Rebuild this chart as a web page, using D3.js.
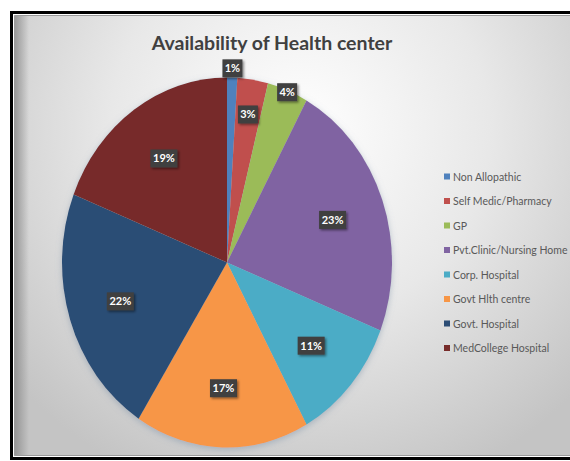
<!DOCTYPE html>
<html>
<head>
<meta charset="utf-8">
<script src="https://cdn.jsdelivr.net/npm/d3@7"></script>
<style>
html, body { margin: 0; background: #fff; overflow: hidden; }
svg { display: block; }
</style>
</head>
<body>
<div id="chart"></div>
<script>
var title = "Availability of Health center";
var categories = ["Non Allopathic", "Self Medic/Pharmacy", "GP", "Pvt.Clinic/Nursing Home",
    "Corp. Hospital", "Govt Hlth centre", "Govt. Hospital", "MedCollege Hospital"];
var shares = [1, 3, 4, 23, 11, 17, 22, 19];
var colors = ["#4f81bd", "#c0504d", "#9bbb59", "#8064a2", "#4bacc6", "#f79646", "#2c4d75", "#772c2a"];

var width = 570, height = 461;
var cx = 227, cy = 262.5, rx = 165, ry = 185;

var svg = d3.select("#chart").append("svg")
    .attr("width", width)
    .attr("height", height);

var defs = svg.append("defs");
var bg = defs.append("radialGradient")
    .attr("id", "bg")
    .attr("gradientUnits", "userSpaceOnUse")
    .attr("cx", 300).attr("cy", 130).attr("r", 380);
bg.append("stop").attr("offset", "0%").attr("stop-color", "#ffffff");
bg.append("stop").attr("offset", "50%").attr("stop-color", "#e8e8e8");
bg.append("stop").attr("offset", "100%").attr("stop-color", "#c4c4c4");

var edge = defs.append("linearGradient").attr("id", "edge");
edge.append("stop").attr("offset", "0%").attr("stop-color", "#8a8a8a").attr("stop-opacity", 0.8);
edge.append("stop").attr("offset", "100%").attr("stop-color", "#8a8a8a").attr("stop-opacity", 0);

var shadow = defs.append("filter").attr("id", "shadow")
    .attr("x", "-30%").attr("y", "-30%").attr("width", "160%").attr("height", "160%");
shadow.append("feDropShadow")
    .attr("dx", 1.5).attr("dy", 1.5).attr("stdDeviation", 1)
    .attr("flood-color", "#000").attr("flood-opacity", 0.45);

var glow = defs.append("filter").attr("id", "glow")
    .attr("x", "-10%").attr("y", "-10%").attr("width", "120%").attr("height", "120%");
glow.append("feDropShadow")
    .attr("dx", 0).attr("dy", 2).attr("stdDeviation", 3)
    .attr("flood-color", "#7f93a8").attr("flood-opacity", 0.5);

// frame: chart area runs past the right edge of the picture
svg.append("rect")
    .attr("x", 14).attr("y", 15)
    .attr("width", width - 14).attr("height", 441)
    .attr("fill", "url(#bg)");
svg.append("path")
    .attr("d", "M" + width + ",15.5H14.5V455.5H" + width)
    .attr("fill", "none")
    .attr("stroke", "#9a9a9a")
    .attr("stroke-width", 1);
svg.append("path")
    .attr("d", "M" + width + ",12.5H11.5V458.5H" + width)
    .attr("fill", "none")
    .attr("stroke", "#000")
    .attr("stroke-width", 3);
svg.append("rect")
    .attr("x", 15).attr("y", 16)
    .attr("width", 14).attr("height", 439)
    .attr("fill", "url(#edge)");

// title
svg.append("text")
    .attr("x", 272).attr("y", 50)
    .attr("text-anchor", "middle")
    .attr("font-family", "Lato, 'Open Sans', sans-serif")
    .attr("font-weight", "bold")
    .attr("font-size", 19.5)
    .attr("fill", "#404040")
    .text(title);

// pie
var pie = d3.pie().sort(null).value(function(d) { return d; });
var arcs = pie(shares);
var arc = d3.arc().innerRadius(0).outerRadius(rx);

var pieG = svg.append("g")
    .attr("transform", "translate(" + cx + "," + cy + ") scale(1," + (ry / rx) + ")")
    .attr("filter", "url(#glow)");
pieG.selectAll("path")
    .data(arcs)
    .enter().append("path")
    .attr("d", arc)
    .attr("fill", function(d, i) { return colors[i]; });

// labels (best fit: small slices pushed outward)
var labelFactor = function(i) {
    if (i === 0) return 1.05;
    if (i === 1) return 0.81;
    if (i === 2) return 0.99;
    return 0.68;
};
var labelG = svg.append("g").attr("transform", "translate(" + cx + "," + cy + ")");
var labels = labelG.selectAll(".lbl")
    .data(arcs)
    .enter().append("g")
    .attr("class", "lbl")
    .attr("transform", function(d, i) {
        var r = rx * labelFactor(i);
        var c = d3.arc().innerRadius(r).outerRadius(r).centroid(d);
        return "translate(" + c[0] + "," + (c[1] * ry / rx) + ")";
    });
labels.append("rect")
    .attr("x", function(d) { return d.data >= 10 ? -13.5 : -10; })
    .attr("y", -9)
    .attr("width", function(d) { return d.data >= 10 ? 27 : 20; })
    .attr("height", 18)
    .attr("fill", "#3f3f3f")
    .attr("filter", "url(#shadow)");
labels.append("text")
    .attr("text-anchor", "middle")
    .attr("dy", "0.36em")
    .attr("font-family", "Lato, 'Open Sans', sans-serif")
    .attr("font-weight", "bold")
    .attr("font-size", 11)
    .attr("fill", "#fff")
    .text(function(d) { return d.data + "%"; });

// legend
var legend = svg.append("g").attr("transform", "translate(444,177)");
var item = legend.selectAll(".item")
    .data(categories)
    .enter().append("g")
    .attr("class", "item")
    .attr("transform", function(d, i) { return "translate(0," + (i * 24.5) + ")"; });
item.append("rect")
    .attr("x", 0).attr("y", -3.5)
    .attr("width", 6).attr("height", 6)
    .attr("fill", function(d, i) { return colors[i]; });
item.append("text")
    .attr("x", 9)
    .attr("dy", "0.35em")
    .attr("font-family", "Lato, 'Open Sans', sans-serif")
    .attr("font-size", 10.5)
    .attr("fill", "#595959")
    .text(function(d) { return d; });
</script>
</body>
</html>
